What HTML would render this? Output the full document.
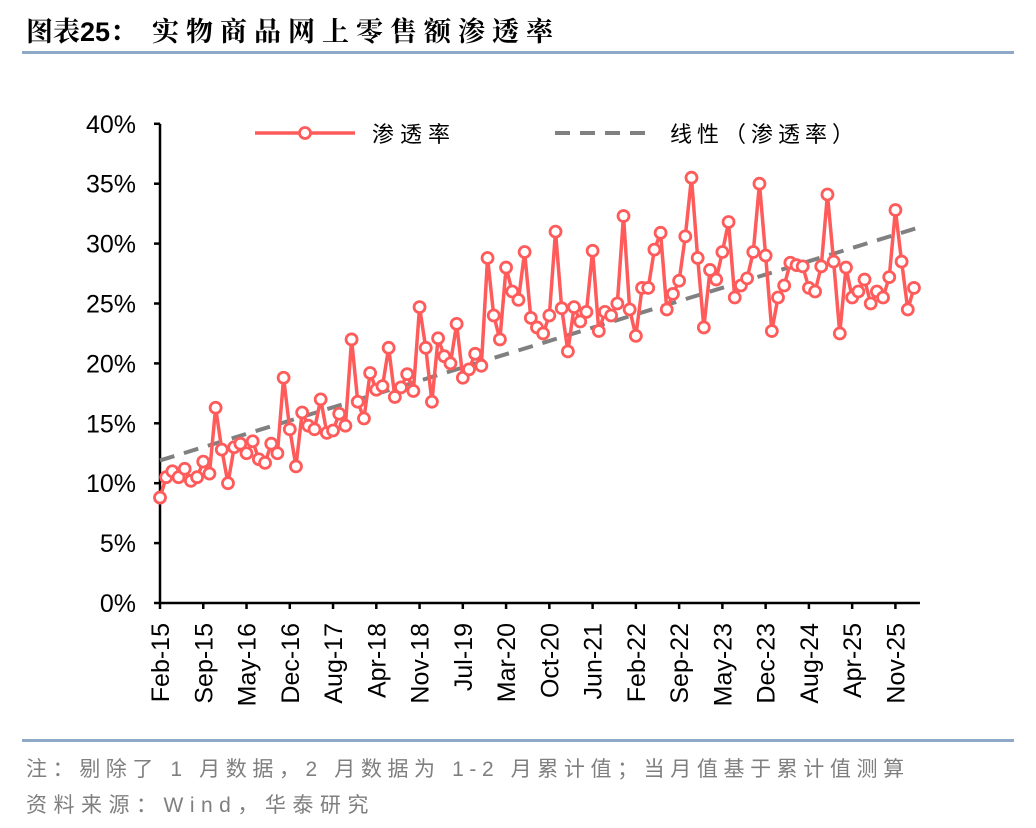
<!DOCTYPE html>
<html><head><meta charset="utf-8">
<style>
html,body{margin:0;padding:0;background:#fff;}
body{width:1036px;height:828px;position:relative;overflow:hidden;font-family:"Liberation Sans","Noto Sans CJK SC",sans-serif;}
.title{position:absolute;left:26px;top:10px;font-size:27px;font-weight:bold;color:#000;font-family:"Liberation Sans","Noto Serif CJK SC","Noto Sans CJK SC",sans-serif;white-space:nowrap;}
.title .zh{letter-spacing:7px;}
.rule{position:absolute;left:22px;width:992px;height:3px;background:#8EA9C8;}
.note{position:absolute;left:26px;font-size:21px;color:#7f7f7f;font-family:"Liberation Sans","Noto Sans CJK SC",sans-serif;letter-spacing:5.6px;white-space:nowrap;}
</style></head>
<body>
<div class="title">图表25：&nbsp;&nbsp;<span class="zh">实物商品网上零售额渗透率</span></div>
<div class="rule" style="top:51px"></div>
<svg id="chart" width="1036" height="828" style="position:absolute;left:0;top:0"></svg>
<div class="rule" style="top:739px"></div>
<div class="note" style="top:753px">注：剔除了 1 月数据，2 月数据为 1-2 月累计值；当月值基于累计值测算</div>
<div class="note" style="top:789px;letter-spacing:6.5px">资料来源：Wind，华泰研究</div>
<script>
const values = [8.8,10.5,11.0,10.5,11.2,10.2,10.5,11.8,10.8,16.3,12.8,10.0,13.0,13.3,12.5,13.5,12.0,11.7,13.3,12.5,
18.8,14.5,11.4,15.9,14.8,14.5,17.0,14.2,14.4,15.8,14.8,22.0,16.8,15.4,19.2,17.8,18.1,21.3,17.2,18.0,
19.1,17.7,24.7,21.3,16.8,22.1,20.6,20.0,23.3,18.8,19.5,20.8,19.8,28.8,24.0,22.0,28.0,26.0,25.3,29.3,
23.8,23.0,22.5,24.0,31.0,24.6,21.0,24.7,23.5,24.3,29.4,22.7,24.3,24.0,25.0,32.3,24.5,22.3,26.3,26.3,
29.5,30.9,24.5,25.8,26.9,30.6,35.5,28.8,23.0,27.8,27.0,29.3,31.8,25.5,26.5,27.1,29.3,35.0,29.0,22.7,
25.5,26.5,28.4,28.2,28.1,26.3,26.0,28.1,34.1,28.5,22.5,28.0,25.5,26.0,27.0,25.0,26.0,25.5,27.2,32.8,
28.5,24.5,26.3];
const tickLabels = ["Feb-15","Sep-15","May-16","Dec-16","Aug-17","Apr-18","Nov-18","Jul-19","Mar-20","Oct-20","Jun-21","Feb-22","Sep-22","May-23","Dec-23","Aug-24","Apr-25","Nov-25"];
const tickEvery = 7;
const yTicks = [0,5,10,15,20,25,30,35,40];
const trendIdx = [0, 122.5];
const trendVals = [11.9, 31.3];

const NS="http://www.w3.org/2000/svg";
const svg=document.getElementById('chart');
const X0=160, STEP=6.18, Y0=603, PPU=11.98;
const xs=i=>X0+i*STEP;
const ys=v=>Y0-v*PPU;
const FS=25;
function mk(tag,attrs){const e=document.createElementNS(NS,tag);for(const k in attrs)e.setAttribute(k,attrs[k]);svg.appendChild(e);return e;}

let ax=mk('line',{x1:X0,y1:ys(40),x2:X0,y2:Y0,stroke:'#000','stroke-width':2.5});


yTicks.forEach(t=>{
  const tk=mk('line',{x1:X0-6,y1:ys(t),x2:X0,y2:ys(t),stroke:'#000','stroke-width':2.5});
  
  
  const tx=mk('text',{x:X0-24,y:ys(t)+9,'text-anchor':'end','font-size':FS,'font-family':'Liberation Sans, sans-serif',fill:'#000'});
  tx.textContent=t+'%';
  
  
});
const xEnd=xs(values.length-1)+6;
let xa=mk('line',{x1:X0,y1:Y0,x2:xEnd,y2:Y0,stroke:'#000','stroke-width':2.5});


tickLabels.forEach((lab,k)=>{
  const x=xs(k*tickEvery);
  const tk=mk('line',{x1:x,y1:Y0,x2:x,y2:Y0+6,stroke:'#000','stroke-width':2.5});
  
  
  const tx=mk('text',{x:0,y:0,'text-anchor':'end','font-size':FS,'font-family':'Liberation Sans, sans-serif',fill:'#000',transform:`translate(${x+9},${Y0+20}) rotate(-90)`});
  tx.textContent=lab;
  
  
});
let tr=mk('line',{x1:xs(trendIdx[0]),y1:ys(trendVals[0]),x2:xs(trendIdx[1]),y2:ys(trendVals[1]),stroke:'#808080','stroke-width':4,'stroke-dasharray':'15,10'});


let pts=values.map((v,i)=>xs(i)+','+ys(v)).join(' ');
let pl=mk('polyline',{points:pts,fill:'none',stroke:'#FF5B5B','stroke-width':3.5,'stroke-linejoin':'round'});


values.forEach((v,i)=>{
  const c=mk('circle',{cx:xs(i),cy:ys(v),r:5.5,fill:'#fff',stroke:'#FF5B5B','stroke-width':2.8});
  
  
});
let l1=mk('line',{x1:255,y1:133,x2:355,y2:133,stroke:'#FF5B5B','stroke-width':3.5});


let lc=mk('circle',{cx:305,cy:133,r:5.5,fill:'#fff',stroke:'#FF5B5B','stroke-width':2.8});


let lt=mk('text',{x:372,y:142,'font-size':22,'font-family':'Liberation Sans, Noto Sans CJK SC, sans-serif',fill:'#000','letter-spacing':'6'});
lt.textContent='渗透率';


let l2=mk('line',{x1:555,y1:133,x2:655,y2:133,stroke:'#808080','stroke-width':4,'stroke-dasharray':'15,10'});


let lt2=mk('text',{x:670,y:142,'font-size':22,'font-family':'Liberation Sans, Noto Sans CJK SC, sans-serif',fill:'#000','letter-spacing':'5'});
lt2.textContent='线性（渗透率）';


</script>
</body></html>
